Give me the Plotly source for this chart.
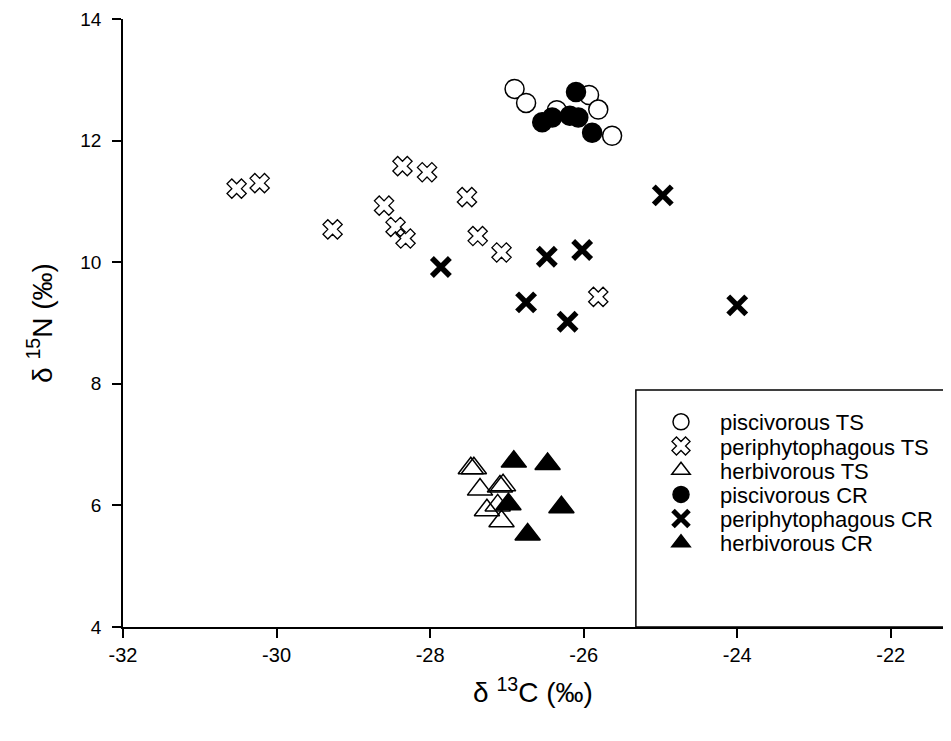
import plotly.graph_objects as go

# piscivorous TS (open circles)
pisc_ts_x = [-26.9, -26.75, -26.35, -25.93, -25.81, -25.63]
pisc_ts_y = [12.85, 12.62, 12.5, 12.75, 12.51, 12.08]
# periphytophagous TS (open X)
peri_ts_x = [-30.52, -30.22, -28.36, -28.04, -27.52, -28.60, -29.27, -28.45, -28.32, -27.38, -27.07, -25.81]
peri_ts_y = [11.21, 11.30, 11.58, 11.48, 11.07, 10.93, 10.54, 10.58, 10.39, 10.43, 10.16, 9.43]
# herbivorous TS (open triangles)
herb_ts_x = [-27.47, -27.43, -27.35, -27.09, -27.05, -27.26, -27.07, -27.12]
herb_ts_y = [6.61, 6.61, 6.26, 6.31, 6.33, 5.92, 5.74, 6.0]
# piscivorous CR (filled circles)
pisc_cr_x = [-26.1, -26.54, -26.41, -26.18, -26.07, -25.89]
pisc_cr_y = [12.8, 12.30, 12.38, 12.41, 12.38, 12.13]
# periphytophagous CR (filled X)
peri_cr_x = [-27.86, -24.97, -26.48, -26.02, -26.75, -26.21, -24.0]
peri_cr_y = [9.92, 11.10, 10.09, 10.20, 9.34, 9.02, 9.29]
# herbivorous CR (filled triangles)
herb_cr_x = [-26.91, -26.47, -26.29, -26.73, -26.98]
herb_cr_y = [6.72, 6.68, 5.97, 5.52, 6.02]

x_ticks = [-32, -30, -28, -26, -24, -22]
y_ticks = [4, 6, 8, 10, 12, 14]

FONT = "Liberation Sans, Arial, sans-serif"

# plot area in window pixels (page has an 8px body margin)
PLOT_TOP, PLOT_BOTTOM, PLOT_LEFT, PLOT_W = 19, 627, 123, 820
LEG_LEFT_PX = 642
LEG_ROWS_PX = [422, 446.2, 470.4, 494.6, 518.8, 543]

fig = go.Figure()

traces = [
    ("piscivorous TS", pisc_ts_x, pisc_ts_y, "circle", "white", 19, 1.5),
    ("periphytophagous TS", peri_ts_x, peri_ts_y, "x-open", "black", 17, 1.3),
    ("herbivorous TS", herb_ts_x, herb_ts_y, "triangle-up-open", "black", 22, 1.5),
    ("piscivorous CR", pisc_cr_x, pisc_cr_y, "circle", "black", 19, 1.5),
    ("periphytophagous CR", peri_cr_x, peri_cr_y, "x-thin", "black", 18, 5.5),
    ("herbivorous CR", herb_cr_x, herb_cr_y, "triangle-up", "black", 22, 1.5),
]

legend_layouts = {}
for i, (name, xs, ys, sym, fill, size, lw) in enumerate(traces):
    key = "legend" if i == 0 else f"legend{i + 1}"
    fig.add_trace(go.Scatter(
        x=xs, y=ys, mode="markers", name=name, legend=key,
        marker=dict(symbol=sym, size=size, color=fill,
                    line=dict(color="black", width=lw)),
    ))
    legend_layouts[key] = dict(
        x=(LEG_LEFT_PX - PLOT_LEFT) / PLOT_W,
        y=(PLOT_BOTTOM - LEG_ROWS_PX[i]) / (PLOT_BOTTOM - PLOT_TOP),
        xanchor="left", yanchor="middle",
        bgcolor="rgba(0,0,0,0)", borderwidth=0,
        font=dict(family=FONT, size=22, color="black"),
        itemwidth=68,
    )

# legend frame
fig.add_shape(type="rect", xref="x", yref="y",
              x0=-25.32, x1=-20.0, y0=4.0, y1=7.9,
              line=dict(color="black", width=1.5), fillcolor="white",
              layer="below")

fig.update_layout(
    width=935, height=725,
    margin=dict(l=115, r=0, t=11, b=106, autoexpand=False),
    paper_bgcolor="white", plot_bgcolor="white",
    font=dict(family=FONT, size=19, color="black"),
    showlegend=True,
    xaxis=dict(range=[-32, -21.32], tickvals=x_ticks,
               ticktext=[str(v) for v in x_ticks],
               showgrid=False, zeroline=False, showline=True,
               linecolor="black", linewidth=1.5, ticks="outside",
               ticklen=9, tickwidth=1.5, tickcolor="black",
               tickfont=dict(family=FONT, size=20),
               ticklabeloverflow="allow", automargin=False,
               title=dict(text="δ <sup>13</sup>C (‰)", font=dict(family=FONT, size=28),
                          standoff=18)),
    yaxis=dict(range=[4, 14], tickvals=y_ticks,
               showgrid=False, zeroline=False, showline=True,
               linecolor="black", linewidth=1.5, ticks="outside",
               ticklen=9, tickwidth=1.5, tickcolor="black",
               tickfont=dict(family=FONT, size=19),
               ticklabeloverflow="allow", automargin=False,
               ticklabelstandoff=7,
               title=dict(text="δ <sup>15</sup>N (‰)", font=dict(family=FONT, size=28),
                          standoff=20)),
    **legend_layouts,
)

fig.write_html("out.html")
